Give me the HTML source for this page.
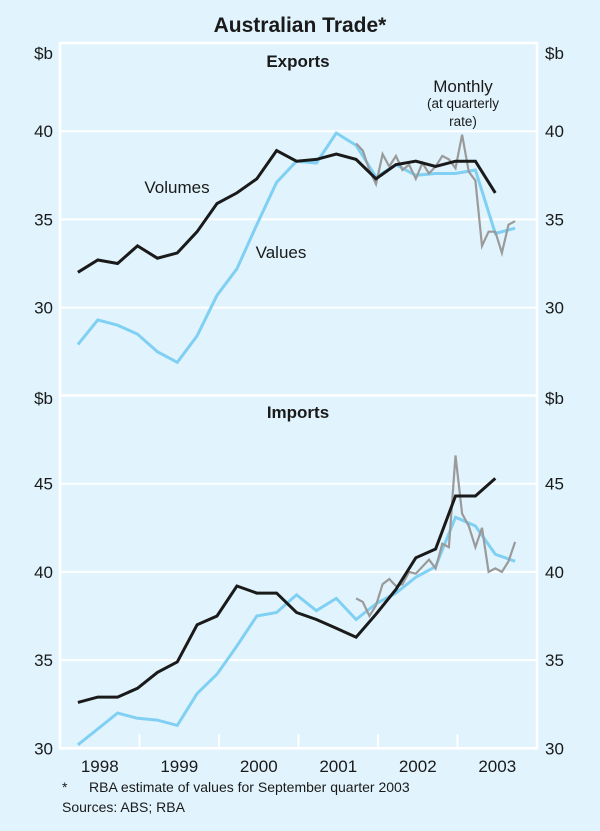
<!DOCTYPE html>
<html><head><meta charset="utf-8"><style>
body{margin:0;background:#e1f4fd;}
svg{display:block;font-family:"Liberation Sans",Arial,sans-serif;}
</style></head><body>
<svg id="chart" width="600" height="831" viewBox="0 0 600 831">
<rect x="0" y="0" width="600" height="831" fill="#e1f4fd"/>
<text x="300" y="32" text-anchor="middle" font-size="21" font-weight="bold" fill="#1a1a1a">Australian Trade*</text>
<g id="grid"></g>
<g id="marks"></g>
<g id="labels" fill="#1a1a1a">
<text x="298" y="67" text-anchor="middle" font-size="17" font-weight="bold">Exports</text>
<text x="298" y="418" text-anchor="middle" font-size="17" font-weight="bold">Imports</text>
<text x="177" y="193" text-anchor="middle" font-size="17">Volumes</text>
<text x="281" y="258" text-anchor="middle" font-size="17">Values</text>
<text x="463" y="92" text-anchor="middle" font-size="17">Monthly</text>
<text x="463" y="108" text-anchor="middle" font-size="13.5">(at quarterly</text>
<text x="463" y="126" text-anchor="middle" font-size="13.5">rate)</text>
<text x="62" y="792" font-size="14">*</text>
<text x="89" y="792" font-size="14">RBA estimate of values for September quarter 2003</text>
<text x="62" y="812" font-size="14">Sources: ABS; RBA</text>
</g>
</svg>
<script>
const years = ["1998","1999","2000","2001","2002","2003"];
const expTicks = [30, 35, 40];
const impTicks = [30, 35, 40, 45];
const expVolumes = [32.0,32.7,32.5,33.5,32.8,33.1,34.3,35.9,36.5,37.3,38.9,38.3,38.4,38.7,38.4,37.3,38.1,38.3,38.0,38.3,38.3,36.5];
const expValues = [27.9,29.3,29.0,28.5,27.5,26.9,28.4,30.7,32.2,34.7,37.1,38.3,38.2,39.9,39.2,37.4,38.1,37.5,37.6,37.6,37.8,34.2,34.5];
const expMonthly = [39.3,38.9,37.8,37.0,38.7,38.0,38.6,37.8,38.1,37.3,38.2,37.6,38.0,38.6,38.4,37.9,39.8,37.7,37.2,33.5,34.3,34.3,33.1,34.7,34.9];
const impVolumes = [32.6,32.9,32.9,33.4,34.3,34.9,37.0,37.5,39.2,38.8,38.8,37.7,37.3,36.8,36.3,37.6,39.0,40.8,41.3,44.3,44.3,45.3];
const impValues = [30.2,31.1,32.0,31.7,31.6,31.3,33.1,34.2,35.8,37.5,37.7,38.7,37.8,38.5,37.3,38.2,38.8,39.7,40.3,43.1,42.6,41.0,40.6];
const impMonthly = [38.5,38.3,37.5,38.1,39.3,39.6,39.2,39.3,40.0,39.9,40.3,40.7,40.2,41.6,41.4,46.6,43.3,42.6,41.4,42.5,40.0,40.2,40.0,40.6,41.7];
const monthlyStartQuarter = 14;

const NS = "http://www.w3.org/2000/svg";
const L = 60, R = 537, yearW = (R - L) / 6, qW = yearW / 4;
const pxPerUnit = 88.2 / 5;
function xQ(q){ return L + (q + 0.9) * qW; }
function yExp(v){ return 43 + (45 - v) * pxPerUnit; }
function yImp(v){ return 395.5 + (50 - v) * pxPerUnit; }
function mk(tag, attrs, parent){ const e = document.createElementNS(NS, tag); for (const k in attrs) e.setAttribute(k, attrs[k]); parent.appendChild(e); return e; }
const grid = document.getElementById('grid'), marks = document.getElementById('marks');

// frame
let f = mk('rect', {x:L, y:43, width:R-L, height:748.3-43, fill:'none', stroke:'#fff', 'stroke-width':2.5}, grid);


let sep = mk('line', {x1:L, x2:R, y1:395.5, y2:395.5, stroke:'#fff', 'stroke-width':2.5}, grid);



function axisPanel(ticks, yf, tag, unitY){
  ticks.forEach(t => {
    const y = yf(t);
    const g = mk('line', {x1:L, x2:R, y1:y, y2:y, stroke:'#fff', 'stroke-width':2}, grid);
    
    
    const a = mk('text', {x:53, y:y+6, 'text-anchor':'end', 'font-size':17, fill:'#1a1a1a'}, grid);
    a.textContent = t;
    
    
    const b = mk('text', {x:545, y:y+6, 'font-size':17, fill:'#1a1a1a'}, grid);
    b.textContent = t;
    
    
  });
  const u1 = mk('text', {x:53, y:unitY, 'text-anchor':'end', 'font-size':17, fill:'#1a1a1a'}, grid);
  u1.textContent = '$b';
  
  
  const u2 = mk('text', {x:545, y:unitY, 'font-size':17, fill:'#1a1a1a'}, grid);
  u2.textContent = '$b';
  
  
}
axisPanel(expTicks, yExp, 'exports', 59);
axisPanel(impTicks, yImp, 'imports', 404);

years.forEach((yr, i) => {
  if (i > 0) {
    const tx = L + i * yearW;
    const t = mk('line', {x1:tx, x2:tx, y1:748.3, y2:734, stroke:'#fff', 'stroke-width':2}, grid);
    
    
  }
  const lb = mk('text', {x:L + (i + 0.5) * yearW, y:772, 'text-anchor':'middle', 'font-size':17, fill:'#1a1a1a'}, grid);
  lb.textContent = yr;
  
  
});

function line(vals, yf, start, step, color, w, name){
  const pts = vals.map((v, i) => xQ(start + i * step).toFixed(1) + ',' + yf(v).toFixed(1)).join(' ');
  const p = mk('polyline', {points:pts, fill:'none', stroke:color, 'stroke-width':w, 'stroke-linejoin':'miter'}, marks);
  
  
}
line(expValues, yExp, 0, 1, '#80d0f3', 3, 'exports-values-line');
line(expMonthly, yExp, monthlyStartQuarter, 1/3, '#9a9a9a', 2.2, 'exports-monthly-line');
line(expVolumes, yExp, 0, 1, '#1a1a1a', 3, 'exports-volumes-line');
line(impValues, yImp, 0, 1, '#80d0f3', 3, 'imports-values-line');
line(impMonthly, yImp, monthlyStartQuarter, 1/3, '#9a9a9a', 2.2, 'imports-monthly-line');
line(impVolumes, yImp, 0, 1, '#1a1a1a', 3, 'imports-volumes-line');
</script>
</body></html>
